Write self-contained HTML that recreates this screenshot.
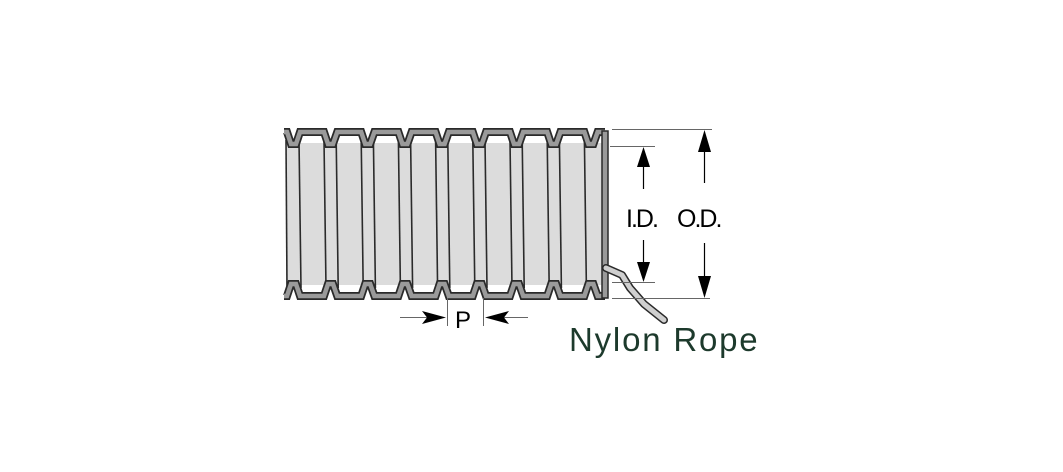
<!DOCTYPE html>
<html><head><meta charset="utf-8"><style>
html,body{margin:0;padding:0;background:#fff;width:1063px;height:472px;overflow:hidden}
svg{display:block}
</style></head><body>
<svg id="s" width="1063" height="472" viewBox="0 0 1063 472" xmlns="http://www.w3.org/2000/svg">
<rect x="286" y="143" width="320" height="142" fill="#dcdcdc"/>
<g id="ribs" stroke="#2a2a2a" stroke-width="1.6" fill="none"></g>
<path id="top" fill="none" stroke="#2a2a2a" stroke-width="8" stroke-linejoin="miter"/>
<path id="top2" fill="none" stroke="#9a9a9a" stroke-width="4.5" stroke-linejoin="miter"/>
<path id="bot" fill="none" stroke="#2a2a2a" stroke-width="8" stroke-linejoin="miter"/>
<path id="bot2" fill="none" stroke="#9a9a9a" stroke-width="4.5" stroke-linejoin="miter"/>
<rect x="602" y="131" width="6" height="167" fill="#9a9a9a" stroke="#2a2a2a" stroke-width="1.5"/>
<path d="M606 268 L622 275 L630 288 L644 304 L664 320" fill="none" stroke="#2a2a2a" stroke-width="8" stroke-linecap="round" stroke-linejoin="round"/>
<path d="M606 268 L622 275 L630 288 L644 304 L664 320" fill="none" stroke="#cfcfcf" stroke-width="5" stroke-linecap="round" stroke-linejoin="round"/>
<g stroke="#666" stroke-width="1">
<line x1="612" y1="129.5" x2="712" y2="129.5"/>
<line x1="610" y1="146.5" x2="655" y2="146.5"/>
<line x1="612" y1="282.5" x2="655" y2="282.5"/>
<line x1="612" y1="298.5" x2="710" y2="298.5"/>
<line x1="447.5" y1="298" x2="447.5" y2="326"/>
<line x1="483.5" y1="298" x2="483.5" y2="326"/>
<line x1="400" y1="317.5" x2="430" y2="317.5"/>
<line x1="498" y1="317.5" x2="528" y2="317.5"/>
</g>
<g stroke="#000" stroke-width="1.2">
<line x1="643.5" y1="160" x2="643.5" y2="189"/>
<line x1="643.5" y1="240" x2="643.5" y2="268"/>
<line x1="704.5" y1="145" x2="704.5" y2="183"/>
<line x1="704.5" y1="243" x2="704.5" y2="282"/>
</g>
<g fill="#000">
<polygon points="643.5,147 637,167 650,167"/>
<polygon points="643.5,282 637,262 650,262"/>
<polygon points="704.5,130 698,152 711,152"/>
<polygon points="704.5,298 698,276 711,276"/>
<polygon points="446,317.5 422,311 427,317.5 422,324"/>
<polygon points="485,317.5 509,311 504,317.5 509,324"/>
</g>
<g font-family="Liberation Sans, sans-serif" fill="#000" font-size="25" letter-spacing="-2">
<text x="626" y="227">I.D.</text>
<text x="677" y="227">O.D.</text>
</g>
<text x="455" y="328" font-family="Liberation Sans, sans-serif" font-size="24" fill="#000">P</text>
<text x="569" y="351" font-family="Liberation Sans, sans-serif" font-size="33" fill="#1d3a2c" letter-spacing="1.8">Nylon Rope</text>
</svg>
<script>
var p=37.2,t="M284 132 L287 132 L291 144 L296 144",b="M284 296 L287 296 L291 284 L296 284",r="";
for(var k=0;k<9;k++){var c=300+p*k;var e=Math.min(c+24,605);
t+=" L"+c+" 132 L"+e+" 132";b+=" L"+c+" 296 L"+e+" 296";
if(c+24<600){t+=" L"+(c+28)+" 144 L"+(c+33)+" 144";b+=" L"+(c+28)+" 284 L"+(c+33)+" 284";}
if(c<590){r+='<line x1="'+(c-1)+'" y1="140" x2="'+(c+1)+'" y2="288"/>';r+='<line x1="'+(c+24)+'" y1="140" x2="'+(c+26)+'" y2="288"/>';}
}
r+='<line x1="286" y1="140" x2="287" y2="288"/>';
document.getElementById('ribs').innerHTML=r;
['top','top2'].forEach(function(i){document.getElementById(i).setAttribute('d',t)});
['bot','bot2'].forEach(function(i){document.getElementById(i).setAttribute('d',b)});
</script>
</body></html>
